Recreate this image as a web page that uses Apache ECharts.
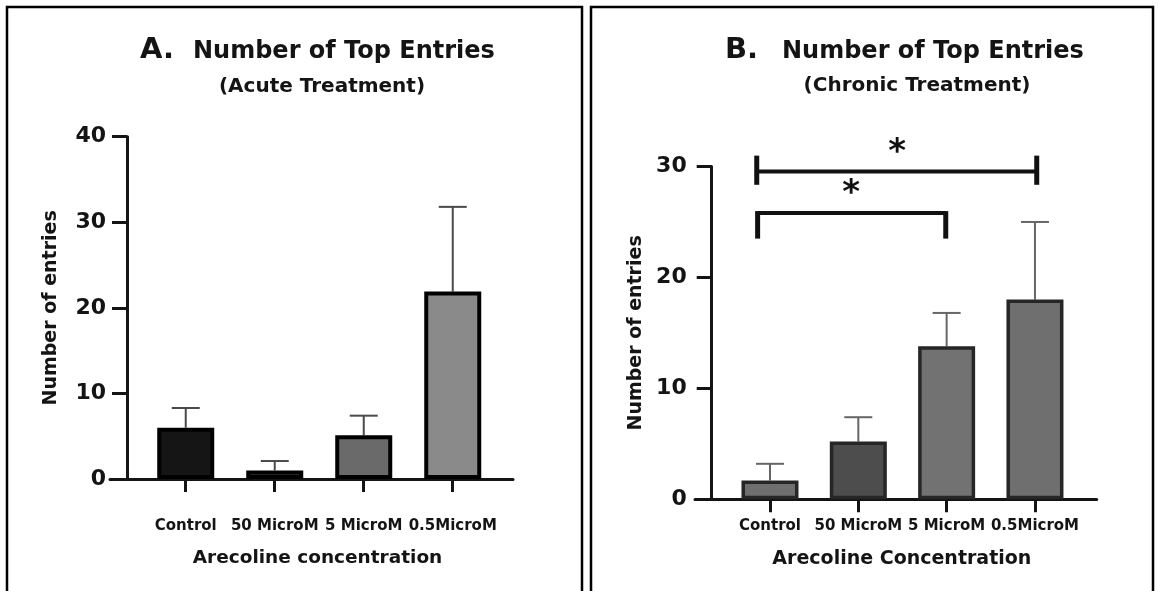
<!DOCTYPE html>
<html>
<head>
<meta charset="utf-8">
<script src="https://cdn.jsdelivr.net/npm/echarts@6/dist/echarts.min.js"></script>
<style>
html, body { margin: 0; padding: 0; background: #fff; }
#main { width: 1159px; height: 591px; }
</style>
</head>
<body>
<div id="main"></div>
<script>
// data
var categories = ["Control", "50 MicroM", "5 MicroM", "0.5MicroM"];
var acuteMean = [6.0, 1.0, 5.1, 21.9];
var acuteErr = [2.3, 1.1, 2.3, 9.9];
var chronicMean = [1.7, 5.2, 13.8, 18.0];
var chronicErr = [1.5, 2.2, 3.0, 7.0];
var acuteTicks = [0, 10, 20, 30, 40];
var chronicTicks = [0, 10, 20, 30];
// significance brackets on panel B: [from, to, yLine, yEndTop, yEndBottom]
var brackets = [
    [-0.15, 3.02, 29.55, 30.8, 28.35],
    [-0.14, 1.99, 25.8, 25.8, 23.5]
];
var stars = [[1.44, 31.2], [0.92, 27.5]];

var acuteFill = ["#151515", "#4a4a4a", "#6a6a6a", "#8a8a8a"];
var chronicFill = ["#6f6f6f", "#4d4d4d", "#727272", "#6f6f6f"];

var FONT = "DejaVu Sans";
var INK = "#141414";

var myChart = echarts.init(document.getElementById("main"));

function barData(means) {
    return means.map(function (v, i) { return [i, v]; });
}
function errData(means, errs) {
    return means.map(function (v, i) { return [i, v, v + errs[i]]; });
}
function errRender(color) {
    return function (params, api) {
        var lo = api.coord([api.value(0), api.value(1)]);
        var hi = api.coord([api.value(0), api.value(2)]);
        var st = { stroke: color, lineWidth: 2 };
        return {
            type: "group",
            children: [
                { type: "line", shape: { x1: lo[0], y1: lo[1], x2: hi[0], y2: hi[1] }, style: st },
                { type: "line", shape: { x1: hi[0] - 14, y1: hi[1], x2: hi[0] + 14, y2: hi[1] }, style: st }
            ]
        };
    };
}

function xAxisOf(gridIndex, min, max, labelMargin, nameGap, name, nameSize) {
    return {
        type: "value",
        gridIndex: gridIndex,
        min: min,
        max: max,
        splitLine: { show: false },
        axisLine: { show: true, onZero: false, lineStyle: { color: INK, width: 3 } },
        axisTick: { show: true, length: 13, customValues: [0, 1, 2, 3], lineStyle: { color: INK, width: 3 } },
        axisLabel: {
            customValues: [0, 1, 2, 3],
            margin: labelMargin,
            fontFamily: FONT, fontWeight: "bold", fontSize: 15, color: INK,
            formatter: function (v) { return categories[Math.round(v)]; }
        },
        name: name,
        nameLocation: "middle",
        nameGap: nameGap,
        nameTextStyle: { fontFamily: FONT, fontWeight: "bold", fontSize: nameSize, color: INK, padding: [0, 0, 0, 12] }
    };
}

function yAxisOf(gridIndex, max, offset, labelMargin) {
    return {
        type: "value",
        gridIndex: gridIndex,
        min: 0,
        max: max,
        interval: 10,
        offset: offset,
        splitLine: { show: false },
        axisLine: { show: true, onZero: false, lineStyle: { color: INK, width: 3 } },
        axisTick: { show: true, length: 15, lineStyle: { color: INK, width: 3 } },
        axisLabel: { margin: labelMargin, fontFamily: FONT, fontWeight: "bold", fontSize: 22, color: INK },
        name: "Number of entries",
        nameLocation: "middle",
        nameGap: 66,
        nameTextStyle: { fontFamily: FONT, fontWeight: "bold", fontSize: 19, color: INK }
    };
}

var titleFont = { fontFamily: FONT, fontWeight: "bold", color: INK };

var option = {
    animation: false,
    backgroundColor: "#fff",
    title: [
        { text: "A.", left: 140, top: 36, padding: 0, textStyle: Object.assign({ fontSize: 29 }, titleFont) },
        { text: "Number of Top Entries", left: 193, top: 40, padding: 0, textStyle: Object.assign({ fontSize: 24 }, titleFont) },
        { text: "(Acute Treatment)", left: 322, top: 77, padding: 0, textAlign: "center", textStyle: Object.assign({ fontSize: 20 }, titleFont) },
        { text: "B.", left: 725, top: 36, padding: 0, textStyle: Object.assign({ fontSize: 29 }, titleFont) },
        { text: "Number of Top Entries", left: 782, top: 40, padding: 0, textStyle: Object.assign({ fontSize: 24 }, titleFont) },
        { text: "(Chronic Treatment)", left: 917, top: 76, padding: 0, textAlign: "center", textStyle: Object.assign({ fontSize: 20 }, titleFont) }
    ],
    graphic: [
        { type: "polyline", shape: { points: [[7, 600], [7, 7], [582, 7], [582, 600]] }, style: { stroke: "#000", lineWidth: 2.5, fill: null } },
        { type: "polyline", shape: { points: [[591, 600], [591, 7], [1153, 7], [1153, 600]] }, style: { stroke: "#000", lineWidth: 2.5, fill: null } }
    ],
    grid: [
        { left: 110, top: 136.7, width: 403, height: 342.3 },
        { left: 695, top: 166.5, width: 401.7, height: 332.8 }
    ],
    xAxis: [
        xAxisOf(0, -0.851, 3.677, 40, 70, "Arecoline concentration", 18.5),
        xAxisOf(1, -0.849, 3.699, 19, 50, "Arecoline Concentration", 19)
    ],
    yAxis: [
        yAxisOf(0, 40, -17, 21),
        yAxisOf(1, 30, -16.7, 25)
    ],
    series: [
        {
            type: "custom", xAxisIndex: 0, yAxisIndex: 0, z: 1,
            renderItem: errRender("#4a4a4a"),
            data: errData(acuteMean, acuteErr)
        },
        {
            type: "bar", xAxisIndex: 0, yAxisIndex: 0, z: 2,
            barWidth: 57,
            itemStyle: {
                color: function (p) { return acuteFill[p.dataIndex]; },
                borderColor: "#000", borderWidth: 4
            },
            data: barData(acuteMean)
        },
        {
            type: "custom", xAxisIndex: 1, yAxisIndex: 1, z: 1,
            renderItem: errRender("#666"),
            data: errData(chronicMean, chronicErr)
        },
        {
            type: "bar", xAxisIndex: 1, yAxisIndex: 1, z: 2,
            barWidth: 57,
            itemStyle: {
                color: function (p) { return chronicFill[p.dataIndex]; },
                borderColor: "#262626", borderWidth: 3.5
            },
            data: barData(chronicMean)
        },
        {
            type: "custom", xAxisIndex: 1, yAxisIndex: 1, z: 3, clip: false,
            renderItem: function (params, api) {
                var a = api.coord([api.value(0), api.value(2)]);
                var b = api.coord([api.value(1), api.value(2)]);
                var top = api.coord([0, api.value(3)])[1];
                var bot = api.coord([0, api.value(4)])[1];
                var st = { stroke: "#111", lineWidth: 4, lineCap: "butt" };
                return {
                    type: "group",
                    children: [
                        { type: "line", shape: { x1: a[0], y1: a[1], x2: b[0], y2: b[1] }, style: st },
                        { type: "line", shape: { x1: a[0], y1: top - 2, x2: a[0], y2: bot }, style: Object.assign({}, st, { lineWidth: 5 }) },
                        { type: "line", shape: { x1: b[0], y1: top - 2, x2: b[0], y2: bot }, style: Object.assign({}, st, { lineWidth: 5 }) }
                    ]
                };
            },
            data: brackets
        },
        {
            type: "custom", xAxisIndex: 1, yAxisIndex: 1, z: 3, clip: false,
            renderItem: function (params, api) {
                var p = api.coord([api.value(0), api.value(1)]);
                return {
                    type: "text",
                    x: p[0], y: p[1],
                    style: {
                        text: "*", fill: "#111",
                        font: "bold 34px '" + FONT + "'",
                        align: "center", verticalAlign: "middle"
                    }
                };
            },
            data: stars
        }
    ]
};

myChart.setOption(option);
</script>
</body>
</html>
